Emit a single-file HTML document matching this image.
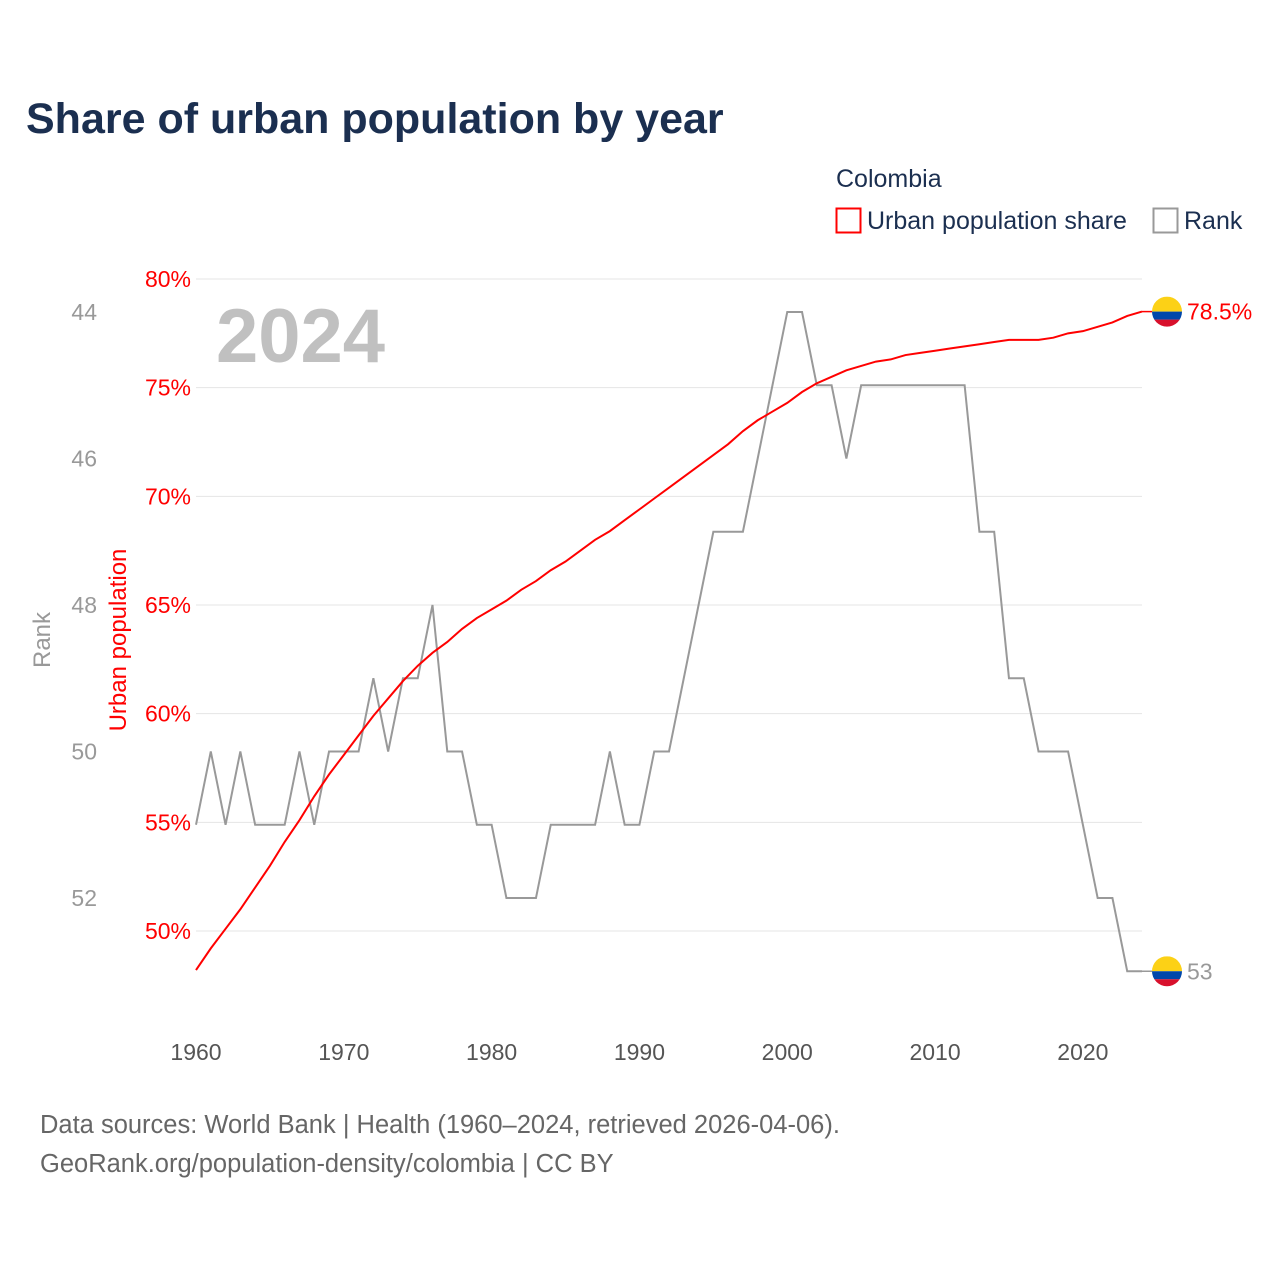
<!DOCTYPE html>
<html><head><meta charset="utf-8"><style>
html,body{margin:0;padding:0;background:#fff;}
svg{display:block;font-family:"Liberation Sans",sans-serif;}
</style></head><body>
<svg id="chart" width="1280" height="1280" viewBox="0 0 1280 1280">
<text x="26" y="133" font-size="43" font-weight="bold" fill="#1b2f50">Share of urban population by year</text>
<text x="836" y="187" font-size="25" fill="#1b2f50">Colombia</text>
<g><rect x="836.5" y="208.5" width="24" height="24" fill="none" stroke="#ff0000" stroke-width="2"/><text x="867" y="229" font-size="25" fill="#1b2f50">Urban population share</text></g>
<g><rect x="1153.5" y="208.5" width="24" height="24" fill="none" stroke="#999" stroke-width="2"/><text x="1184" y="229" font-size="25" fill="#1b2f50">Rank</text></g>
<text x="216" y="362" font-size="76" font-weight="bold" fill="#c0c0c0">2024</text>
<g id="grid"></g><g id="yl"></g><g id="yr"></g><g id="xt"></g>
<text transform="translate(126,640) rotate(-90)" text-anchor="middle" font-size="24" fill="#ff0000">Urban population</text>
<text transform="translate(50,640) rotate(-90)" text-anchor="middle" font-size="24" fill="#999">Rank</text>
<g id="lines"></g>
<text x="40" y="1133" font-size="25.5" fill="#666">Data sources: World Bank | Health (1960–2024, retrieved 2026-04-06).</text>
<text x="40" y="1172" font-size="25.5" fill="#666">GeoRank.org/population-density/colombia | CC BY</text>
</svg>
<script>
const years=[];for(let y=1960;y<=2024;y++)years.push(y);
const urbanShare=[48.2,49.2,50.1,51.0,52.0,53.0,54.1,55.1,56.2,57.2,58.1,59.0,59.9,60.7,61.5,62.2,62.8,63.3,63.9,64.4,64.8,65.2,65.7,66.1,66.6,67.0,67.5,68.0,68.4,68.9,69.4,69.9,70.4,70.9,71.4,71.9,72.4,73.0,73.5,73.9,74.3,74.8,75.2,75.5,75.8,76.0,76.2,76.3,76.5,76.6,76.7,76.8,76.9,77.0,77.1,77.2,77.2,77.2,77.3,77.5,77.6,77.8,78.0,78.3,78.5];
const rank=[51,50,51,50,51,51,51,50,51,50,50,50,49,50,49,49,48,50,50,51,51,52,52,52,51,51,51,51,50,51,51,50,50,49,48,47,47,47,46,45,44,44,45,45,46,45,45,45,45,45,45,45,45,47,47,49,49,50,50,50,51,52,52,53,53];
const pctTicks=[50,55,60,65,70,75,80];
const rankTicks=[44,46,48,50,52];
const xTicks=[1960,1970,1980,1990,2000,2010,2020];
const NS="http://www.w3.org/2000/svg";
const X=y=>196+(y-1960)*(1142-196)/64;
const YP=v=>931-(v-50)*(931-279)/30;
const YR=r=>312+(r-44)*(898-312)/8;
function mk(t,a,p){const e=document.createElementNS(NS,t);for(const k in a)e.setAttribute(k,a[k]);document.getElementById(p).appendChild(e);return e;}
pctTicks.forEach(v=>{
 const l=mk('line',{x1:196,x2:1142,y1:YP(v),y2:YP(v),stroke:'#e5e5e5','stroke-width':1},'grid');
 
 
 const t=mk('text',{x:191,y:YP(v)+8,'text-anchor':'end','font-size':23,fill:'#ff0000'},'yl');t.textContent=v+'%';
 
 
});
rankTicks.forEach(r=>{
 const t=mk('text',{x:97,y:YR(r)+8,'text-anchor':'end','font-size':23,fill:'#999'},'yr');t.textContent=r;
 
 
});
xTicks.forEach(y=>{
 const t=mk('text',{x:X(y),y:1060,'text-anchor':'middle','font-size':23,fill:'#555'},'xt');t.textContent=y;
 
 
});
const rl=mk('polyline',{points:years.map((y,i)=>X(y)+','+YR(rank[i])).join(' '),fill:'none',stroke:'#999','stroke-width':2},'lines');


const ul=mk('polyline',{points:years.map((y,i)=>X(y)+','+YP(urbanShare[i])).join(' '),fill:'none',stroke:'#ff0000','stroke-width':2},'lines');


function flag(cy,label,color,name){
 const x0=X(2024);
 mk('line',{x1:x0,x2:1152,y1:cy,y2:cy,stroke:color,'stroke-width':1.5},'lines');
 const g=mk('g',{},'lines');
 
 
 const id='c'+Math.round(cy);
 const cp=document.createElementNS(NS,'clipPath');cp.setAttribute('id',id);
 const c=document.createElementNS(NS,'circle');c.setAttribute('cx',1167);c.setAttribute('cy',cy);c.setAttribute('r',15);cp.appendChild(c);g.appendChild(cp);
 [['#fcd116',cy-15,15],['#0047ab',cy,8],['#d8102c',cy+8,8]].forEach(s=>{
  const r=document.createElementNS(NS,'rect');r.setAttribute('x',1152);r.setAttribute('y',s[1]);r.setAttribute('width',30);r.setAttribute('height',s[2]);r.setAttribute('fill',s[0]);r.setAttribute('clip-path','url(#'+id+')');g.appendChild(r);
 });
 const t=document.createElementNS(NS,'text');t.setAttribute('x',1187);t.setAttribute('y',cy+8);t.setAttribute('font-size',23);t.setAttribute('fill',color);t.textContent=label;g.appendChild(t);
}
flag(YP(urbanShare[urbanShare.length-1]),urbanShare[urbanShare.length-1]+'%','#ff0000','urban-end-label');
flag(YR(rank[rank.length-1]),String(rank[rank.length-1]),'#999','rank-end-label');
</script>
</body></html>
